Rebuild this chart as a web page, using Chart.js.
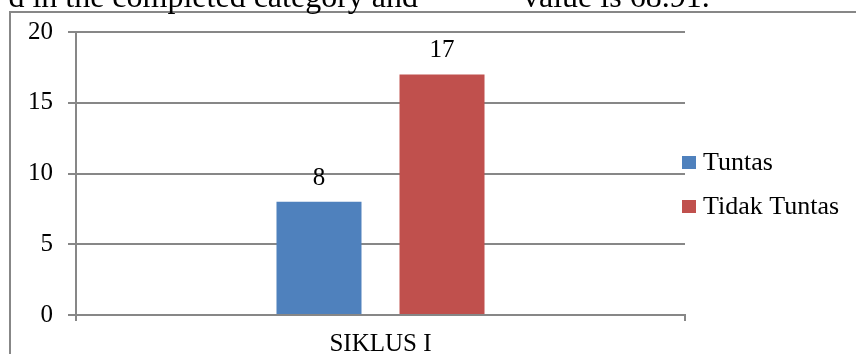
<!DOCTYPE html>
<html>
<head>
<meta charset="utf-8">
<script src="https://cdn.jsdelivr.net/npm/chart.js@4.4.0/dist/chart.umd.min.js"></script>
<style>
  html, body { margin: 0; padding: 0; background: #fff; }
  #wrap { position: relative; width: 856px; height: 354px; overflow: hidden; }
  canvas { display: block; }
</style>
</head>
<body>
<div id="wrap"><canvas id="c" width="856" height="354"></canvas></div>
<script>
const categories = ['SIKLUS I'];
const seriesNames = ['Tuntas', 'Tidak Tuntas'];
const tuntasValues = [8];
const tidakTuntasValues = [17];
const seriesColors = ['#4F81BD', '#C0504D'];
const yTicks = [0, 5, 10, 15, 20];
const captionLeft = 'd in the completed category and';
const captionRight = 'value is 68.91.';

const FONT = '"Liberation Serif", "Times New Roman", serif';
const GRID = '#878787';

const framePlugin = {
  id: 'frame',
  beforeDraw(chart) {
    const ctx = chart.ctx;
    ctx.save();
    ctx.fillStyle = '#fff';
    ctx.fillRect(0, 0, chart.width, chart.height);
    ctx.strokeStyle = GRID;
    ctx.lineWidth = 2;
    ctx.strokeRect(10, 12, 900, 400);
    ctx.fillStyle = '#000';
    ctx.font = '32px ' + FONT;
    ctx.textBaseline = 'alphabetic';
    ctx.textAlign = 'right';
    ctx.fillText(captionLeft, 418, 7);
    ctx.textAlign = 'left';
    ctx.fillText(captionRight, 523, 7);
    ctx.restore();
  }
};

const labelPlugin = {
  id: 'valueLabels',
  afterDatasetsDraw(chart) {
    const ctx = chart.ctx;
    ctx.save();
    ctx.fillStyle = '#000';
    ctx.font = '25px ' + FONT;
    ctx.textAlign = 'center';
    ctx.textBaseline = 'alphabetic';
    chart.data.datasets.forEach((ds, i) => {
      chart.getDatasetMeta(i).data.forEach((el, j) => {
        ctx.fillText(String(ds.data[j]), el.x, el.y - 17);
      });
    });
    ctx.restore();
  }
};

const legendPlugin = {
  id: 'sideLegend',
  afterDraw(chart) {
    const ctx = chart.ctx;
    ctx.save();
    ctx.font = '26px ' + FONT;
    ctx.textAlign = 'left';
    ctx.textBaseline = 'middle';
    const rows = [162.5, 206.5];
    chart.data.datasets.forEach((ds, i) => {
      const cy = rows[i];
      ctx.fillStyle = ds.backgroundColor;
      ctx.fillRect(682, cy - 6.5, 14, 13);
      ctx.fillStyle = '#000';
      ctx.fillText(ds.label, 703, cy + 1);
    });
    ctx.restore();
  }
};

new Chart(document.getElementById('c'), {
  type: 'bar',
  data: {
    labels: categories,
    datasets: [
      { label: seriesNames[0], data: tuntasValues, backgroundColor: seriesColors[0] },
      { label: seriesNames[1], data: tidakTuntasValues, backgroundColor: seriesColors[1] }
    ]
  },
  options: {
    responsive: false,
    animation: false,
    events: [],
    devicePixelRatio: 1,
    categoryPercentage: 0.404,
    barPercentage: 0.691,
    layout: { padding: { left: 0, top: 32, right: 171, bottom: 0 } },
    plugins: { legend: { display: false }, tooltip: { enabled: false } },
    scales: {
      x: {
        afterFit(s) { s.height = 39; },
        grid: { display: true, drawOnChartArea: false, drawTicks: true, tickLength: 6, color: GRID, lineWidth: 2, offset: true },
        border: { display: true, color: GRID, width: 2 },
        ticks: { color: '#000', font: { family: FONT, size: 25 }, padding: 8 }
      },
      y: {
        min: 0, max: 20,
        afterFit(s) { s.width = 76; },
        afterBuildTicks(s) { s.ticks = yTicks.map(v => ({ value: v })); },
        grid: { color: GRID, lineWidth: 2, drawTicks: true, tickLength: 8 },
        border: { display: true, color: GRID, width: 2 },
        ticks: { color: '#000', font: { family: FONT, size: 25 }, padding: 15 }
      }
    }
  },
  plugins: [framePlugin, labelPlugin, legendPlugin]
});
</script>
</body>
</html>
